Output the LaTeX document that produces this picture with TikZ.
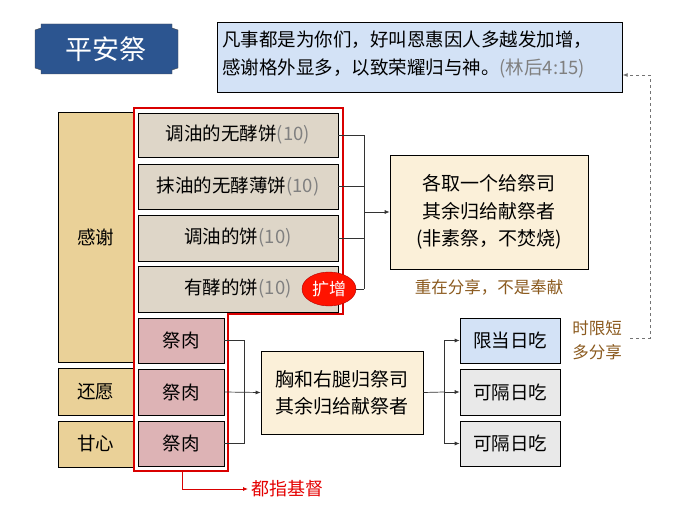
\documentclass[tikz,border=0pt]{standalone}
\usepackage{fontspec}
\setmainfont{Noto Sans CJK SC}
\usetikzlibrary{arrows.meta,shapes.geometric}
\definecolor{parch}{HTML}{EAD198}
\definecolor{bread}{HTML}{DED6C8}
\definecolor{meat}{HTML}{DDB3B5}
\definecolor{cream}{HTML}{FBF0D9}
\definecolor{sky}{HTML}{D3E2F6}
\definecolor{grayb}{HTML}{E9E9E9}
\definecolor{navy}{HTML}{2C5590}
\definecolor{brownt}{HTML}{8B5A1E}
\tikzset{
 bx/.style={draw=black, line width=0.7pt, inner sep=0pt, font=\fontsize{18.5}{21}\selectfont},
 cnt/.style={line width=0.7pt, draw=black!80},
 arr/.style={cnt, -{Latex[length=5pt,width=4pt]}},
 gr/.style={text=black!50}
}
\begin{document}
\begin{tikzpicture}[x=1pt,y=-1pt]
\useasboundingbox (0,0) rectangle (680,508);
\fill[white] (0,0) rectangle (680,508);
% title
\draw[fill=navy, draw=black!70] (41,24)--(172,24)--(172,28)--(178,30)--(178,68)--(172,70)--(172,74)--(41,74)--(41,70)--(35,68)--(35,30)--(41,28)--cycle;
\node[text=white, font=\fontsize{27}{30}\selectfont] (title) at (106,49) {平安祭};
% quote
\node[bx, fill=sky, minimum width=405pt, minimum height=70pt, anchor=north west] (quote) at (217,22) {};
\node[anchor=west, align=left, inner sep=0pt, font=\fontsize{18.5}{28}\selectfont] (qt) at (222,55) {凡事都是为你们，好叫恩惠因人多越发加增，\\感谢格外显多，以致荣耀归与神。{\color{black!50}(林后4:15)}};
% left column
\node[bx, fill=parch, minimum width=75pt, minimum height=250pt] (gx) at (95.5,237) {感谢};
\node[bx, fill=parch, minimum width=75pt, minimum height=47pt] (hy) at (95.5,391.5) {还愿};
\node[bx, fill=parch, minimum width=75pt, minimum height=46pt] (gxin) at (95.5,444) {甘心};
% bread
\node[bx, fill=bread, minimum width=200pt, minimum height=44pt] (b1) at (238,135) {调油的无酵饼{\color{black!50}(10)}};
\node[bx, fill=bread, minimum width=200pt, minimum height=45pt] (b2) at (238,186.5) {抹油的无酵薄饼{\color{black!50}(10)}};
\node[bx, fill=bread, minimum width=200pt, minimum height=46pt] (b3) at (238,238) {调油的饼{\color{black!50}(10)}};
\node[bx, fill=bread, minimum width=200pt, minimum height=46pt] (b4) at (238,289) {有酵的饼{\color{black!50}(10)}\hspace{30pt}};
% meat
\node[bx, fill=meat, minimum width=86pt, minimum height=45pt] (m1) at (181,340.5) {祭肉};
\node[bx, fill=meat, minimum width=86pt, minimum height=46pt] (m2) at (181,392) {祭肉};
\node[bx, fill=meat, minimum width=86pt, minimum height=45pt] (m3) at (181,443.5) {祭肉};
% red outline
\draw[red!85!black, line width=1.3pt] (134,108)--(343,108)--(343,314)--(228,314)--(228,471)--(134,471)--cycle;
% kuozeng
\node[ellipse, draw=red!70!black, fill=red!85!orange, text=white, minimum width=54pt, minimum height=34pt, inner sep=0pt, font=\fontsize{17}{19}\selectfont] (kz) at (329,289) {扩增};
% right boxes
\node[bx, fill=cream, minimum width=198pt, minimum height=114pt, align=center, font=\fontsize{19}{27.5}\selectfont] (gq) at (489,212) {各取一个给祭司\\其余归给献祭者\\(非素祭，不焚烧)};
\node[text=brownt, font=\fontsize{16.5}{18}\selectfont] (zz) at (489,287) {重在分享，不是奉献};
\node[bx, fill=cream, minimum width=162pt, minimum height=83pt, align=center, font=\fontsize{19}{27}\selectfont] (xh) at (342,392.5) {胸和右腿归祭司\\其余归给献祭者};
\node[bx, fill=sky, minimum width=100pt, minimum height=45pt] (r1) at (510,340.5) {限当日吃};
\node[bx, fill=grayb, minimum width=100pt, minimum height=46pt] (r2) at (510,392) {可隔日吃};
\node[bx, fill=grayb, minimum width=100pt, minimum height=45pt] (r3) at (510,443.5) {可隔日吃};
\node[text=brownt, align=center, font=\fontsize{16.5}{24}\selectfont] (sx) at (597,340) {时限短\\多分享};
% connectors bread
\coordinate (jb) at (364,212);
\draw[cnt] (b1.east)-|(364,289);
\draw[cnt] (b2.east)-|(jb);
\draw[cnt] (b3.east)--(b3.east-|jb);
\draw[cnt] (kz.east)--(kz.east-|jb);
\draw[arr] (jb)--(gq.west);
% meat
\coordinate (jm) at (244,392);
\draw[cnt] (m1.east)-|(jm);
\draw[cnt] (m3.east)-|(jm);
\draw[arr] (m2.east)--(xh.west);
% out
\coordinate (jo) at (444,392);
\draw[cnt] (xh.east)--(jo);
\draw[arr] (jo)|-(r1.west);
\draw[arr] (jo)|-(r3.west);
\draw[arr] (jo)--(r2.west);
% dashed
\draw[dashed, draw=black!55, line width=0.7pt, -{Latex[length=5pt,width=4pt]}] (630,338) -- (650,338) -- (650,75) -- (quote.east|-0,75);
% red note
\node[text=red!90!black, anchor=west, font=\fontsize{18}{20}\selectfont] (zj) at (248,489) {都指基督};
\draw[red!85!black, line width=0.8pt, -{Latex[length=5pt,width=4pt]}] (182,471)--(182,489)--(zj.west);
\end{tikzpicture}
\end{document}
